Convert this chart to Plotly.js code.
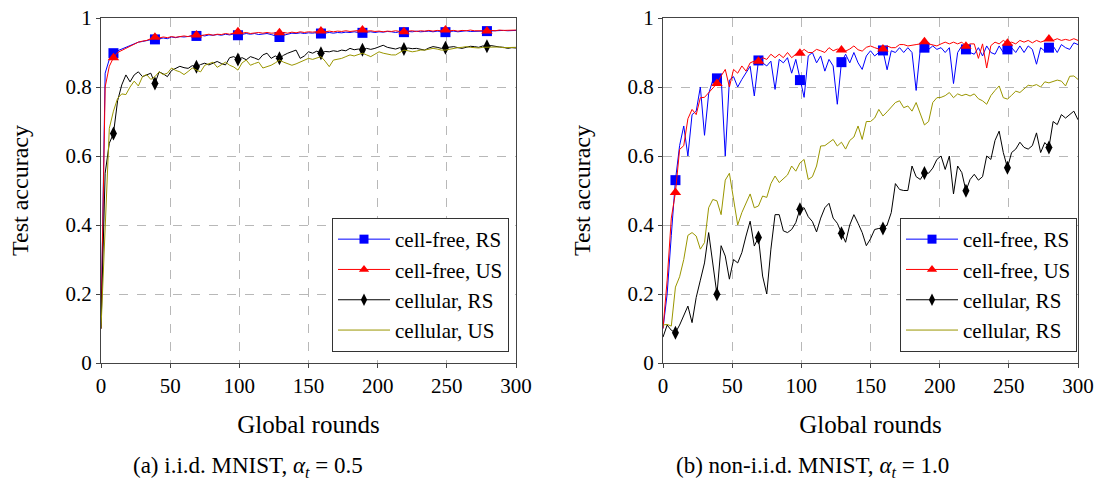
<!DOCTYPE html>
<html>
<head>
<meta charset="utf-8">
<script src="https://cdn.plot.ly/plotly-3.0.1.min.js"></script>
<style>
  html, body { margin: 0; padding: 0; background: #fff; }
  #chart { width: 1100px; height: 501px; }
</style>
</head>
<body>
<div id="chart"></div>
<script>
// Global rounds sampled every 3 rounds (0..300)
const rounds = Array.from({length: 101}, (_, i) => i * 3);
const markerRounds = [9, 39, 69, 99, 129, 159, 189, 219, 249, 279];
const xTicks = [0, 50, 100, 150, 200, 250, 300];
const yTicks = [0, 0.2, 0.4, 0.6, 0.8, 1];
const seriesNames = ['cell-free, RS', 'cell-free, US', 'cellular, RS', 'cellular, US'];
const seriesNamesB = ['cell-free, RS', 'cell-free, US', 'cellular, RS', 'cellular, RS'];
const captionA = '(a) i.i.d. MNIST, <i>α</i><sub><i>t</i></sub> = 0.5';
const captionB = '(b) non-i.i.d. MNIST, <i>α</i><sub><i>t</i></sub> = 1.0';

// (a) i.i.d. MNIST
const iidCellFreeRS = [0.10,0.84,0.88,0.898,0.905,0.91,0.915,0.92,0.925,0.93,
 0.932,0.935,0.937,0.938,0.94,0.942,0.94,0.945,0.943,0.946,
 0.945,0.947,0.948,0.948,0.95,0.948,0.951,0.95,0.952,0.95,
 0.953,0.951,0.954,0.95,0.953,0.955,0.953,0.955,0.952,0.954,
 0.955,0.952,0.948,0.945,0.95,0.954,0.956,0.955,0.957,0.955,
 0.957,0.956,0.958,0.955,0.957,0.958,0.956,0.958,0.957,0.959,
 0.958,0.96,0.958,0.957,0.959,0.96,0.958,0.96,0.959,0.961,
 0.96,0.958,0.96,0.959,0.961,0.96,0.962,0.96,0.961,0.962,
 0.96,0.962,0.961,0.959,0.961,0.962,0.96,0.962,0.963,0.961,
 0.962,0.963,0.962,0.962,0.963,0.962,0.963,0.964,0.963,0.964,
 0.964];
const iidCellFreeUS = [0.10,0.80,0.86,0.885,0.90,0.905,0.912,0.918,0.925,0.93,
 0.933,0.935,0.94,0.944,0.942,0.945,0.943,0.946,0.944,0.947,
 0.948,0.946,0.95,0.951,0.949,0.951,0.953,0.95,0.953,0.952,
 0.955,0.953,0.956,0.96,0.956,0.958,0.955,0.957,0.958,0.956,
 0.958,0.956,0.957,0.957,0.958,0.956,0.959,0.957,0.96,0.958,
 0.96,0.959,0.961,0.962,0.96,0.962,0.96,0.962,0.961,0.963,
 0.961,0.962,0.963,0.965,0.962,0.963,0.961,0.962,0.96,0.962,
 0.961,0.963,0.961,0.96,0.962,0.963,0.961,0.963,0.962,0.964,
 0.962,0.964,0.963,0.965,0.963,0.964,0.962,0.964,0.963,0.965,
 0.963,0.964,0.963,0.962,0.964,0.963,0.965,0.964,0.965,0.964,
 0.965];
const iidCellularRS = [0.10,0.55,0.637,0.665,0.76,0.806,0.835,0.815,0.835,0.844,
 0.83,0.835,0.84,0.81,0.844,0.838,0.83,0.848,0.854,0.86,
 0.856,0.854,0.862,0.859,0.865,0.869,0.864,0.87,0.874,0.868,
 0.864,0.885,0.888,0.88,0.885,0.879,0.888,0.884,0.879,0.893,
 0.898,0.883,0.89,0.883,0.892,0.898,0.903,0.907,0.883,0.89,
 0.902,0.898,0.904,0.898,0.903,0.902,0.905,0.903,0.907,0.905,
 0.912,0.908,0.91,0.908,0.912,0.909,0.912,0.916,0.921,0.915,
 0.912,0.91,0.914,0.91,0.913,0.911,0.912,0.909,0.907,0.913,
 0.917,0.915,0.912,0.914,0.916,0.917,0.914,0.912,0.915,0.918,
 0.917,0.915,0.919,0.918,0.92,0.917,0.916,0.915,0.912,0.914,
 0.913];
const iidCellularUS = [0.10,0.40,0.68,0.73,0.767,0.78,0.778,0.80,0.817,0.803,
 0.83,0.836,0.822,0.83,0.844,0.836,0.84,0.855,0.848,0.844,
 0.836,0.845,0.855,0.849,0.844,0.863,0.868,0.872,0.857,0.865,
 0.872,0.863,0.858,0.849,0.87,0.878,0.863,0.868,0.872,0.855,
 0.858,0.863,0.87,0.878,0.872,0.868,0.863,0.867,0.872,0.878,
 0.883,0.88,0.885,0.888,0.875,0.859,0.878,0.88,0.883,0.888,
 0.893,0.89,0.895,0.898,0.893,0.888,0.895,0.902,0.898,0.895,
 0.893,0.893,0.90,0.907,0.905,0.902,0.904,0.907,0.907,0.91,
 0.912,0.91,0.907,0.907,0.91,0.912,0.914,0.915,0.917,0.915,
 0.914,0.913,0.915,0.915,0.916,0.917,0.916,0.914,0.914,0.915,
 0.915];

// (b) non-i.i.d. MNIST
const noniidCellFreeRS = [0.10,0.20,0.37,0.53,0.63,0.687,0.60,0.72,0.73,0.80,
 0.66,0.78,0.82,0.825,0.832,0.60,0.82,0.83,0.80,0.822,
 0.84,0.86,0.774,0.877,0.87,0.861,0.875,0.793,0.88,0.87,
 0.885,0.84,0.88,0.82,0.77,0.89,0.90,0.87,0.89,0.846,
 0.88,0.861,0.75,0.872,0.895,0.87,0.90,0.87,0.851,0.89,
 0.905,0.89,0.90,0.906,0.85,0.905,0.90,0.914,0.90,0.914,
 0.90,0.79,0.91,0.914,0.909,0.919,0.909,0.914,0.90,0.914,
 0.81,0.90,0.919,0.909,0.90,0.895,0.914,0.89,0.919,0.90,
 0.895,0.919,0.90,0.909,0.914,0.90,0.919,0.90,0.919,0.909,
 0.866,0.914,0.904,0.914,0.919,0.90,0.923,0.914,0.909,0.928,
 0.923];
const noniidCellFreeUS = [0.10,0.24,0.42,0.494,0.619,0.63,0.708,0.735,0.72,0.769,
 0.77,0.784,0.795,0.81,0.832,0.851,0.80,0.851,0.84,0.861,
 0.846,0.87,0.875,0.875,0.885,0.88,0.895,0.885,0.895,0.885,
 0.90,0.885,0.895,0.898,0.909,0.90,0.90,0.909,0.905,0.90,
 0.914,0.905,0.91,0.907,0.904,0.91,0.919,0.908,0.904,0.915,
 0.919,0.914,0.91,0.91,0.919,0.914,0.914,0.923,0.923,0.919,
 0.92,0.923,0.925,0.931,0.925,0.923,0.919,0.925,0.93,0.925,
 0.93,0.925,0.93,0.918,0.925,0.925,0.883,0.925,0.855,0.92,
 0.93,0.925,0.935,0.927,0.93,0.925,0.935,0.93,0.935,0.928,
 0.935,0.93,0.935,0.939,0.935,0.94,0.935,0.938,0.935,0.94,
 0.935];
const noniidCellularRS = [0.075,0.11,0.095,0.088,0.11,0.14,0.165,0.117,0.19,0.24,
 0.29,0.378,0.28,0.199,0.34,0.31,0.243,0.30,0.29,0.32,
 0.368,0.411,0.339,0.364,0.252,0.20,0.33,0.43,0.43,0.383,
 0.378,0.387,0.407,0.446,0.45,0.424,0.41,0.38,0.42,0.45,
 0.463,0.42,0.405,0.376,0.35,0.40,0.43,0.405,0.378,0.34,
 0.36,0.387,0.39,0.39,0.40,0.436,0.52,0.503,0.50,0.50,
 0.571,0.54,0.532,0.551,0.55,0.565,0.59,0.60,0.561,0.60,
 0.49,0.571,0.552,0.499,0.532,0.547,0.53,0.54,0.60,0.59,
 0.645,0.672,0.61,0.566,0.61,0.62,0.64,0.625,0.62,0.63,
 0.667,0.61,0.639,0.625,0.70,0.691,0.72,0.71,0.72,0.73,
 0.705];
const noniidCellularUS = [0.11,0.112,0.107,0.22,0.25,0.30,0.37,0.378,0.368,0.33,
 0.349,0.45,0.474,0.47,0.43,0.53,0.55,0.48,0.40,0.436,
 0.465,0.49,0.45,0.455,0.484,0.48,0.52,0.542,0.523,0.535,
 0.545,0.571,0.556,0.58,0.59,0.532,0.54,0.571,0.629,0.63,
 0.64,0.648,0.629,0.64,0.62,0.645,0.655,0.687,0.648,0.70,
 0.70,0.71,0.735,0.716,0.728,0.74,0.755,0.76,0.74,0.745,
 0.73,0.755,0.725,0.69,0.70,0.755,0.769,0.77,0.775,0.784,
 0.769,0.78,0.775,0.779,0.774,0.78,0.766,0.76,0.75,0.775,
 0.79,0.803,0.769,0.765,0.776,0.788,0.784,0.796,0.805,0.803,
 0.807,0.80,0.815,0.812,0.817,0.82,0.817,0.803,0.831,0.832,
 0.822];

const FONT = '"Liberation Serif", "Times New Roman", Times, serif';
const styles = [
  {color: '#0000ff', symbol: 'square', size: 10},
  {color: '#ff0000', symbol: 'triangle-up', size: 10},
  {color: '#000000', symbol: 'diamond-tall', size: 10},
  {color: '#9a9600', symbol: null, size: 0}
];

function markerY(series) {
  return markerRounds.map(r => series[rounds.indexOf(r)]);
}

const traces = [];
function addPanel(seriesList, names, xa, ya, legendId) {
  seriesList.forEach((s, i) => {
    const st = styles[i];
    traces.push({
      x: rounds, y: s, xaxis: xa, yaxis: ya, mode: 'lines', type: 'scatter',
      line: {color: st.color, width: 1}, showlegend: false, hoverinfo: 'skip'
    });
    if (st.symbol) {
      traces.push({
        x: markerRounds, y: markerY(s), xaxis: xa, yaxis: ya, mode: 'markers', type: 'scatter',
        marker: {color: st.color, symbol: st.symbol, size: st.size, line: {width: 0}},
        showlegend: false, hoverinfo: 'skip'
      });
    }
  });
  seriesList.forEach((s, i) => {
    const st = styles[i];
    const t = {
      x: [null], y: [null], xaxis: xa, yaxis: ya, type: 'scatter',
      mode: st.symbol ? 'lines+markers' : 'lines',
      name: names[i], legend: legendId,
      line: {color: st.color, width: 1}
    };
    if (st.symbol) t.marker = {color: st.color, symbol: st.symbol, size: st.size - 1, line: {width: 0}};
    traces.push(t);
  });
}
addPanel([iidCellFreeRS, iidCellFreeUS, iidCellularRS, iidCellularUS], seriesNames, 'x', 'y', 'legend');
addPanel([noniidCellFreeRS, noniidCellFreeUS, noniidCellularRS, noniidCellularUS], seriesNamesB, 'x2', 'y2', 'legend2');

function xAxis(domain, anchor) {
  return {
    domain: domain, anchor: anchor, range: [0, 300], tickvals: xTicks,
    showgrid: true, gridcolor: '#b8b8b8', griddash: 'dash', gridwidth: 1,
    zeroline: false, showline: true, linecolor: '#444', linewidth: 1, mirror: true,
    ticks: 'outside', ticklen: 4, tickcolor: '#444',
    tickfont: {family: FONT, size: 21, color: '#000'},
    title: {text: 'Global rounds', font: {family: FONT, size: 25, color: '#000'}, standoff: 18},
    automargin: false, fixedrange: true
  };
}
function yAxis(domain, anchor) {
  return {
    domain: domain, anchor: anchor, range: [0, 1], tickvals: yTicks,
    showgrid: true, gridcolor: '#b8b8b8', griddash: 'dash', gridwidth: 1,
    zeroline: false, showline: true, linecolor: '#444', linewidth: 1, mirror: true,
    ticks: 'outside', ticklen: 4, tickcolor: '#444',
    tickfont: {family: FONT, size: 21, color: '#000'},
    title: {text: 'Test accuracy', font: {family: FONT, size: 24, color: '#000'}, standoff: 30},
    automargin: false, fixedrange: true
  };
}
const yDom = [1 - 363 / 501, 1 - 18 / 501];
const legendBase = {
  bgcolor: '#ffffff', bordercolor: '#333', borderwidth: 1,
  font: {family: FONT, size: 21, color: '#000'},
  xanchor: 'right', yanchor: 'bottom', tracegroupgap: 0, itemwidth: 52
};

const layout = {
  width: 1100, height: 501,
  margin: {l: 0, r: 0, t: 0, b: 0},
  paper_bgcolor: '#fff', plot_bgcolor: '#fff',
  font: {family: FONT, color: '#000'},
  xaxis: xAxis([101 / 1100, 516 / 1100], 'y'),
  yaxis: yAxis(yDom, 'x'),
  xaxis2: xAxis([663 / 1100, 1078 / 1100], 'y2'),
  yaxis2: yAxis(yDom, 'x2'),
  legend: Object.assign({}, legendBase, {x: 509 / 1100, y: 1 - 352 / 501}),
  legend2: Object.assign({}, legendBase, {x: 1077 / 1100, y: 1 - 352 / 501}),
  annotations: [
    {text: captionA, xref: 'paper', yref: 'paper', x: 248 / 1100, y: 1 - 467 / 501,
     showarrow: false, xanchor: 'center', yanchor: 'middle', font: {family: FONT, size: 23, color: '#000'}},
    {text: captionB, xref: 'paper', yref: 'paper', x: 812 / 1100, y: 1 - 467 / 501,
     showarrow: false, xanchor: 'center', yanchor: 'middle', font: {family: FONT, size: 23, color: '#000'}}
  ],
  showlegend: true
};

Plotly.newPlot('chart', traces, layout, {displayModeBar: false, staticPlot: true});
</script>
</body>
</html>
